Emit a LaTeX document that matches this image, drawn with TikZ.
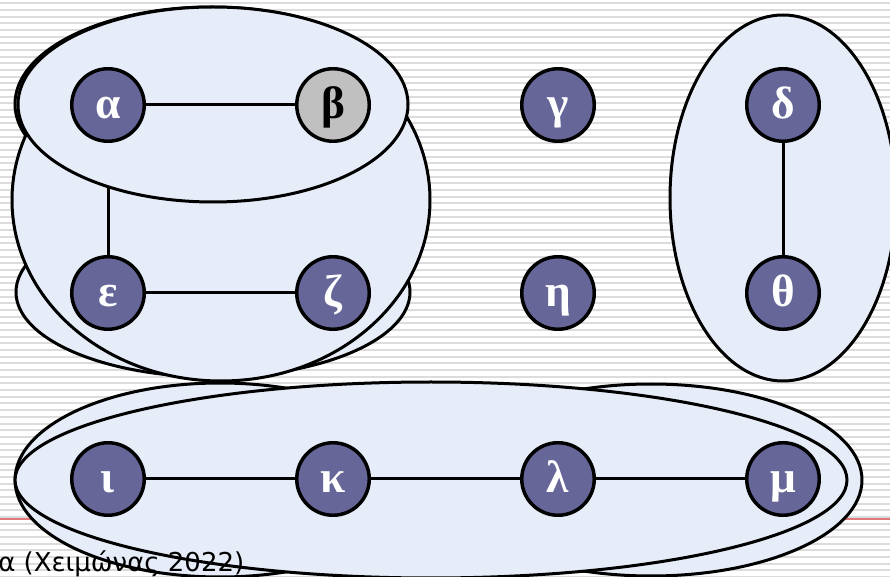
\documentclass[tikz,border=0pt]{standalone}
\usepackage{fontspec}
\setmainfont{Liberation Serif}
\newfontfamily\footfont{DejaVu Sans}
\usetikzlibrary{backgrounds}
\pgfdeclarelayer{back}
\pgfdeclarelayer{grpa}
\pgfdeclarelayer{link}
\pgfdeclarelayer{grpb}
\pgfsetlayers{back,grpa,link,grpb,main}
\definecolor{vfill}{HTML}{666699}
\definecolor{bfill}{HTML}{C0C0C0}
\definecolor{setfill}{HTML}{E6EDF8}
\definecolor{stripe}{HTML}{DCDCDC}
\definecolor{rulered}{HTML}{E07A7A}
\tikzset{vtx/.style={circle, draw, line width=2.6pt, fill=vfill, text=white,
    minimum size=54.4pt, inner sep=0pt, text height=21pt, text depth=0pt,
    font=\fontsize{34}{34}\selectfont\bfseries},
  vtxgray/.style={vtx, fill=bfill, text=black},
  set/.style={draw, line width=2.25pt, fill=setfill},
  edge/.style={line width=2.25pt}}

\begin{document}
\begin{tikzpicture}[x=0.75pt, y=-0.75pt]
  \useasboundingbox (0,0) rectangle (890,577);
  % slide background
  \begin{pgfonlayer}{back}
    \fill[white] (0,0) rectangle (890,577);
    \foreach \k in {0,...,86}
      \draw[stripe, line width=1.5pt] (0,{3.3+6.67*\k}) -- (890,{3.3+6.67*\k});
    \draw[rulered, line width=1.1pt] (0,519) -- (890,519);
  \end{pgfonlayer}
  % vertices
  \node[vtx] (a) at (108,105) {α};
  \node[vtxgray] (b) at (333,105) {β};
  \node[vtx] (g) at (558,105) {γ};
  \node[vtx] (d) at (783,105) {δ};
  \node[vtx] (e) at (108,293) {ε};
  \node[vtx] (z) at (333,293) {ζ};
  \node[vtx] (h) at (558,293) {η};
  \node[vtx] (th) at (783,293) {θ};
  \node[vtx] (i) at (108,479) {ι};
  \node[vtx] (k) at (333,479) {κ};
  \node[vtx] (l) at (558,479) {λ};
  \node[vtx] (m) at (783,479) {μ};
  % sets
  \begin{pgfonlayer}{grpa}
    \draw[set] (211,104) ellipse [x radius=196, y radius=97];
    \draw[set] (213,292) ellipse [x radius=197, y radius=85];
    \draw[set] (221,200) ellipse [x radius=209, y radius=181];
    \draw[set] (783,198) ellipse [x radius=113, y radius=183];
    \draw[set] (220,480) ellipse [x radius=205, y radius=97];
    \draw[set] (651,480) ellipse [x radius=211, y radius=96];
    \draw[set] (431,480) ellipse [x radius=416, y radius=98];
  \end{pgfonlayer}
  \begin{pgfonlayer}{link}
    \draw[edge] (a) -- (e);
  \end{pgfonlayer}
  \begin{pgfonlayer}{grpb}
    \draw[set] (213,104.5) ellipse [x radius=195, y radius=97.5];
  \end{pgfonlayer}
  % edges
  \draw[edge] (a) -- (b);
  \draw[edge] (e) -- (z);
  \draw[edge] (d) -- (th);
  \draw[edge] (i) -- (k);
  \draw[edge] (k) -- (l);
  \draw[edge] (l) -- (m);
  % footer
  \node[anchor=base west, inner sep=0pt, font=\footfont\fontsize{19.5}{20}\selectfont] (foot) at (-2,571) {α (Χειμώνας 2022)};
\end{tikzpicture}
\end{document}
